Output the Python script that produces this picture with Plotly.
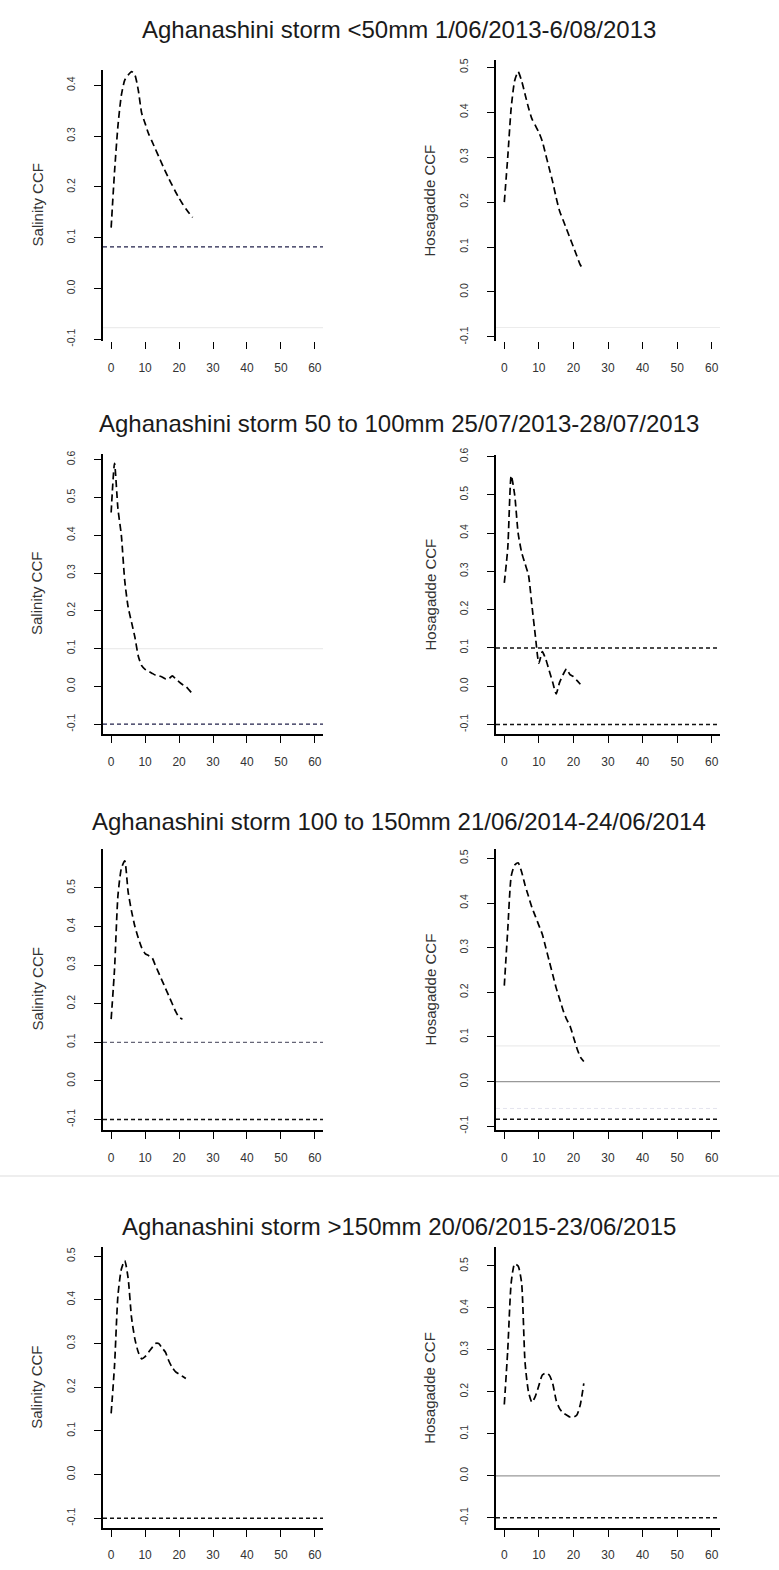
import plotly.graph_objects as go

W, H = 779, 1570

titles = [
    "Aghanashini storm <50mm 1/06/2013-6/08/2013",
    "Aghanashini storm 50 to 100mm 25/07/2013-28/07/2013",
    "Aghanashini storm 100 to 150mm 21/06/2014-24/06/2014",
    "Aghanashini storm >150mm 20/06/2015-23/06/2015",
]
left_ylabel = "Salinity CCF"
right_ylabel = "Hosagadde CCF"

x_ticks = [0, 10, 20, 30, 40, 50, 60]

# CCF values by lag (lag = 0, 1, 2, ...)
ccf_p1 = [0.12, 0.23, 0.32, 0.38, 0.41, 0.42, 0.427, 0.42, 0.39, 0.345, 0.325, 0.305, 0.29,
          0.275, 0.26, 0.245, 0.23, 0.216, 0.203, 0.19, 0.178, 0.167, 0.157, 0.148, 0.14]
ccf_p2 = [0.20, 0.30, 0.41, 0.47, 0.49, 0.47, 0.44, 0.41, 0.385, 0.37, 0.355, 0.335, 0.305,
          0.275, 0.245, 0.21, 0.18, 0.16, 0.14, 0.12, 0.10, 0.08, 0.06, 0.05]
ccf_p3 = [0.46, 0.59, 0.47, 0.40, 0.28, 0.21, 0.17, 0.13, 0.08, 0.055, 0.045, 0.04, 0.035,
          0.03, 0.028, 0.025, 0.02, 0.02, 0.028, 0.02, 0.012, 0.005, 0.0, -0.01, -0.02]
ccf_p4 = [0.27, 0.36, 0.55, 0.50, 0.40, 0.35, 0.32, 0.29, 0.21, 0.13, 0.06, 0.09, 0.07,
          0.04, 0.01, -0.02, 0.01, 0.03, 0.045, 0.03, 0.025, 0.015, 0.005]
ccf_p5 = [0.16, 0.29, 0.48, 0.55, 0.57, 0.49, 0.44, 0.40, 0.37, 0.345, 0.33, 0.325, 0.32,
          0.30, 0.28, 0.26, 0.24, 0.22, 0.20, 0.18, 0.165, 0.16]
ccf_p6 = [0.215, 0.34, 0.46, 0.485, 0.49, 0.47, 0.44, 0.415, 0.39, 0.37, 0.35, 0.33, 0.30,
          0.27, 0.24, 0.21, 0.185, 0.16, 0.14, 0.125, 0.10, 0.075, 0.055, 0.045]
ccf_p7 = [0.14, 0.25, 0.41, 0.47, 0.49, 0.45, 0.36, 0.31, 0.28, 0.265, 0.27, 0.28, 0.29,
          0.30, 0.30, 0.29, 0.28, 0.26, 0.245, 0.235, 0.23, 0.225, 0.22]
ccf_p8 = [0.17, 0.30, 0.46, 0.505, 0.50, 0.46, 0.27, 0.20, 0.175, 0.19, 0.215, 0.24, 0.245,
          0.24, 0.22, 0.18, 0.16, 0.15, 0.145, 0.14, 0.14, 0.145, 0.17, 0.22]
ccf_values = [ccf_p1, ccf_p2, ccf_p3, ccf_p4, ccf_p5, ccf_p6, ccf_p7, ccf_p8]

# reference lines per panel: (value, kind)
ref_p1 = [(0.082, "dash_dark"), (-0.077, "faint")]
ref_p2 = [(-0.079, "faint")]
ref_p3 = [(0.10, "faint"), (-0.10, "dash_dark")]
ref_p4 = [(0.10, "dash"), (-0.10, "dash")]
ref_p5 = [(0.10, "dash_gray"), (-0.10, "dash")]
ref_p6 = [(0.08, "faint"), (0.0, "solid_gray"), (-0.06, "dash_faint"), (-0.084, "dash")]
ref_p7 = [(-0.10, "dash")]
ref_p8 = [(0.0, "solid_gray"), (-0.10, "dash")]
ref_lines = [ref_p1, ref_p2, ref_p3, ref_p4, ref_p5, ref_p6, ref_p7, ref_p8]

y_tick_tops = [0.4, 0.5, 0.6, 0.6, 0.5, 0.5, 0.5, 0.5]

# layout geometry (pixels)
x_px = {0: (103, 323), 1: (496, 720)}
y_px = [(63, 337), (53, 337), (450, 733), (451, 733), (848, 1132), (848, 1132), (1250, 1533), (1250, 1533)]
y_ranges = [(-0.104, 0.431), (-0.110, 0.517), (-0.127, 0.616), (-0.126, 0.605),
            (-0.128, 0.602), (-0.109, 0.522), (-0.123, 0.52), (-0.125, 0.544)]
title_y_px = [23, 420, 821, 1229]
show_xline = [False, False, True, True, True, True, True, True]

styles = {
    "dash_dark": dict(color="#20204a", width=1.3, dash="4px,3px"),
    "dash": dict(color="#111111", width=1.5, dash="4px,3px"),
    "dash_gray": dict(color="#666677", width=1.2, dash="4px,3px"),
    "dash_faint": dict(color="#e4e4ee", width=1.0, dash="4px,3px"),
    "faint": dict(color="#ececec", width=1.2),
    "solid_gray": dict(color="#999999", width=1.3),
}

FONT = "Liberation Sans, Arial, sans-serif"
fig = go.Figure()
shapes = []
annotations = []

for i in range(8):
    n = i + 1
    col = i % 2
    xs = "" if n == 1 else str(n)
    vals = ccf_values[i]
    lags = list(range(len(vals)))
    fig.add_trace(go.Scatter(
        x=lags, y=vals, mode="lines", xaxis="x" + xs, yaxis="y" + xs,
        line=dict(color="black", width=1.7, dash="7px,4px", shape="spline", smoothing=0.6),
        showlegend=False, hoverinfo="skip"))
    for v, kind in ref_lines[i]:
        shapes.append(dict(type="line", xref="x" + xs + " domain", yref="y" + xs,
                           x0=0, x1=1, y0=v, y1=v, line=styles[kind], layer="below"))
    x0, x1 = x_px[col]
    ytop, ybot = y_px[i]
    top = y_tick_tops[i]
    yt = [round(-0.1 + 0.1 * k, 1) for k in range(int(round((top + 0.1) / 0.1)) + 1)]
    ytxt = ["%.1f" % v if v != 0 else "0.0" for v in yt]
    fig.layout["xaxis" + xs] = dict(
        domain=[x0 / W, x1 / W], anchor="y" + xs, range=[-2.4, 62.4],
        tickvals=x_ticks, ticktext=[str(t) for t in x_ticks], ticks="outside", ticklen=7,
        tickwidth=1.3, tickcolor="black", showline=show_xline[i], linecolor="black",
        linewidth=1.6, showgrid=False, zeroline=False,
        tickfont=dict(family=FONT, size=12, color="#333333"), ticklabelstandoff=8)
    fig.layout["yaxis" + xs] = dict(
        domain=[1 - ybot / H, 1 - ytop / H], anchor="x" + xs, range=list(y_ranges[i]),
        tickvals=yt, ticktext=ytxt, ticks="outside", ticklen=7, tickwidth=1.3,
        tickcolor="black", showline=True, linecolor="black", linewidth=2,
        showgrid=False, zeroline=False, tickangle=-90,
        tickfont=dict(family=FONT, size=10.5, color="#333333"), ticklabelstandoff=15)
    annotations.append(dict(
        text=left_ylabel if col == 0 else right_ylabel, xref="paper", yref="paper",
        x=(37 if col == 0 else 430) / W, y=1 - ((ytop + ybot) / 2) / H,
        showarrow=False, textangle=-90, xanchor="center", yanchor="middle",
        font=dict(family=FONT, size=15, color="#333333")))

for r, t in enumerate(titles):
    annotations.append(dict(
        text=t, xref="paper", yref="paper", x=399 / W, y=1 - title_y_px[r] / H,
        showarrow=False, xanchor="center", yanchor="middle",
        font=dict(family=FONT, size=24, color="#1a1a1a")))

shapes.append(dict(type="line", xref="paper", yref="paper", x0=0, x1=1,
                   y0=1 - 1178 / H, y1=1 - 1178 / H, line=dict(color="#eeeeee", width=2)))

fig.update_layout(
    width=W, height=H, margin=dict(l=0, r=0, t=0, b=0),
    paper_bgcolor="white", plot_bgcolor="white",
    shapes=shapes, annotations=annotations, showlegend=False,
    font=dict(family=FONT))

fig.write_html("out.html")
